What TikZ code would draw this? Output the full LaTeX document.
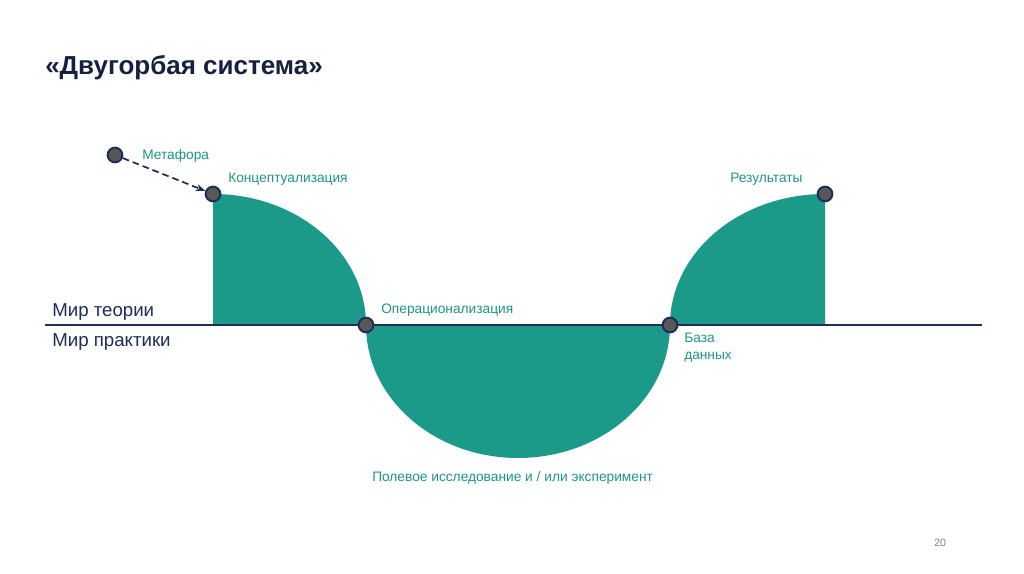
\documentclass[tikz,border=0pt]{standalone}
\usepackage{fontspec}
\setmainfont{Liberation Sans}
\usetikzlibrary{arrows.meta}
\definecolor{navy}{HTML}{1F2D5A}
\definecolor{tealf}{HTML}{1B9A8A}
\definecolor{lbl}{HTML}{1E9484}
\definecolor{dotg}{HTML}{585858}
\begin{document}
\begin{tikzpicture}[x=0.75pt,y=-0.75pt,
  dot/.style={circle,fill=dotg,draw=navy,line width=1.5pt,minimum size=11pt,inner sep=0pt},
  lab/.style={text=lbl,font=\fontsize{10.3}{12.5}\selectfont,inner sep=0pt,anchor=west},
  world/.style={text=navy,font=\fontsize{14}{16}\selectfont,inner sep=0pt,anchor=west}]
\useasboundingbox (0,0) rectangle (1024,574);
\node[anchor=west,inner sep=0pt,text=navy!70!black,font=\bfseries\fontsize{19.5}{22}\selectfont] (title) at (45,68) {«Двугорбая система»};
\fill[tealf] (213,325) -- (213,194) arc[start angle=-90,end angle=0,x radius=153,y radius=131] -- cycle;
\fill[tealf] (366,325) arc[start angle=180,end angle=0,x radius=152,y radius=133] -- cycle;
\fill[tealf] (825,325) -- (825,194) arc[start angle=-90,end angle=-180,x radius=155,y radius=131] -- cycle;
\coordinate (l1) at (45,325); \coordinate (l2) at (982,325);
\draw[navy,line width=2.2pt] (l1) -- (l2);
\node[world] (t) at (52,312) {Мир теории};
\node[world] (p) at (52,342) {Мир практики};
\node[dot] (m) at (115,155) {};
\node[dot] (k) at (213,194) {};
\node[dot] (o) at (366,325) {};
\node[dot] (b) at (670,325) {};
\node[dot] (r) at (825,194) {};
\draw[navy,line width=1.3pt,dash pattern=on 5pt off 3pt,-{Stealth[length=7pt]}] (m) -- (k);
\node[lab] at (142,156) {Метафора};
\node[lab] at (228,179) {Концептуализация};
\node[lab] at (730,179) {Результаты};
\node[lab] at (381,310) {Операционализация};
\node[lab,align=left,anchor=north west] at (684,333) {База\\данных};
\node[lab] at (372,478) {Полевое исследование и / или эксперимент};
\node[lab,text=gray,font=\fontsize{8}{10}\selectfont] at (934,543) {20};
\end{tikzpicture}
\end{document}
